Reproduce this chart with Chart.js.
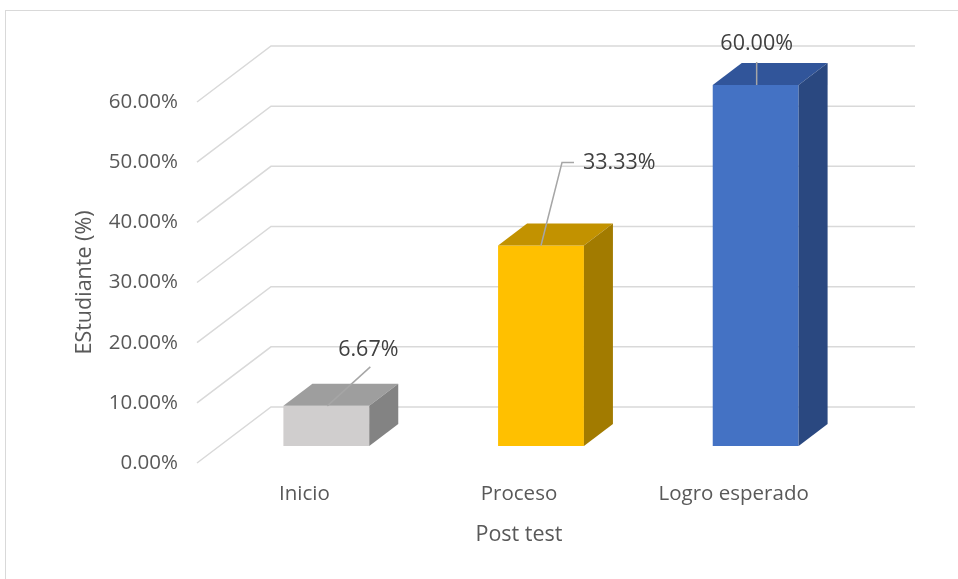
<!DOCTYPE html>
<html>
<head>
<meta charset="utf-8">
<script src="https://cdn.jsdelivr.net/npm/chart.js@4/dist/chart.umd.min.js"></script>
<style>
  html, body { margin: 0; padding: 0; background: #fff; }
  #wrap { position: relative; width: 958px; height: 579px; overflow: hidden; }
  #frame { position: absolute; left: 5px; top: 10px; width: 1000px; height: 600px; border: 1px solid #d9d9d9; }
  #chart { position: absolute; left: 0; top: 0; }
</style>
</head>
<body>
<div id="wrap">
  <div id="frame"></div>
  <canvas id="chart" width="958" height="579"></canvas>
</div>
<script>
const categories = ['Inicio', 'Proceso', 'Logro esperado'];
const values = [6.67, 33.33, 60.00];
const yTicks = [0, 10, 20, 30, 40, 50, 60];

const frontColors = ['#d0cece', '#ffc000', '#4472c4'];
const topColors = ['#9e9e9e', '#c29200', '#31559a'];
const sideColors = ['#838383', '#a27b00', '#2a4880'];

// floor depth (front edge -> back wall) and bar placement inside it
const DEPTH_X = 74, DEPTH_Y = -56;
const SHIFT_X = 22, SHIFT_Y = -17;
const BAR_DX = 29, BAR_DY = -22;

// hand-placed data labels, relative to top-centre of each bar face
const labelLayout = [
    { text: [42, -56], align: 'center', line: [[1, 0], [44, -39]] },
    { text: [42, -83], align: 'left', line: [[0, 0], [21, -83], [33, -83]] },
    { text: [1, -41], align: 'center', line: [[1, 0], [1, -23]] },
];

const FONT = '"Open Sans", sans-serif';

const threeD = {
    id: 'threeD',
    beforeDatasetsDraw(chart) {
        const { ctx, chartArea } = chart;
        const yScale = chart.scales.y;
        ctx.save();
        ctx.strokeStyle = '#d9d9d9';
        ctx.lineWidth = 1.5;
        yTicks.forEach((v) => {
            const y = yScale.getPixelForValue(v);
            ctx.beginPath();
            ctx.moveTo(chartArea.left, y);
            ctx.lineTo(chartArea.left + DEPTH_X, y + DEPTH_Y);
            ctx.lineTo(chartArea.right + DEPTH_X, y + DEPTH_Y);
            ctx.stroke();
        });
        ctx.restore();
        ctx.save();
        ctx.translate(SHIFT_X, SHIFT_Y);
    },
    afterDatasetsDraw(chart) {
        const { ctx } = chart;
        const bars = chart.getDatasetMeta(0).data;
        bars.forEach((bar, i) => {
            const { x, y, base, width } = bar.getProps(['x', 'y', 'base', 'width'], true);
            const l = x - width / 2, r = x + width / 2;
            ctx.fillStyle = topColors[i];
            ctx.beginPath();
            ctx.moveTo(l, y);
            ctx.lineTo(r, y);
            ctx.lineTo(r + BAR_DX, y + BAR_DY);
            ctx.lineTo(l + BAR_DX, y + BAR_DY);
            ctx.closePath();
            ctx.fill();
            ctx.fillStyle = sideColors[i];
            ctx.beginPath();
            ctx.moveTo(r, y);
            ctx.lineTo(r + BAR_DX, y + BAR_DY);
            ctx.lineTo(r + BAR_DX, base + BAR_DY);
            ctx.lineTo(r, base);
            ctx.closePath();
            ctx.fill();
        });
        ctx.restore();

        // data labels with leader lines
        ctx.save();
        bars.forEach((bar, i) => {
            const ax = bar.x + SHIFT_X, ay = bar.y + SHIFT_Y;
            const lay = labelLayout[i];
            ctx.strokeStyle = '#a6a6a6';
            ctx.lineWidth = 1.5;
            ctx.beginPath();
            lay.line.forEach(([dx, dy], k) => {
                if (k === 0) ctx.moveTo(ax + dx, ay + dy);
                else ctx.lineTo(ax + dx, ay + dy);
            });
            ctx.stroke();
            ctx.fillStyle = '#404040';
            ctx.font = '21.5px ' + FONT;
            ctx.textAlign = lay.align;
            ctx.textBaseline = 'middle';
            ctx.fillText(values[i].toFixed(2) + '%', ax + lay.text[0], ay + lay.text[1]);
        });
        ctx.restore();
    },
};

const canvas = document.getElementById('chart');
new Chart(canvas.getContext('2d'), {
    type: 'bar',
    data: {
        labels: categories,
        datasets: [{
            data: values,
            backgroundColor: frontColors,
            borderWidth: 0,
            categoryPercentage: 1,
            barPercentage: 0.4,
            clip: false,
        }],
    },
    options: {
        responsive: false,
        animation: false,
        events: [],
        layout: { padding: { left: 0, top: 102, right: 117, bottom: 0 } },
        plugins: { legend: { display: false }, tooltip: { enabled: false } },
        scales: {
            x: {
                grid: { display: false, drawTicks: false },
                border: { display: false },
                ticks: { color: '#595959', padding: 19, font: { size: 20.5, family: FONT } },
                title: {
                    display: true,
                    text: 'Post test',
                    color: '#595959',
                    font: { size: 21.5, family: FONT },
                    padding: { top: 0, bottom: 31 },
                },
                afterFit: (scale) => { scale.height = 116; },
            },
            y: {
                min: 0,
                max: 60,
                grid: { display: false, drawTicks: false },
                border: { display: false },
                ticks: {
                    stepSize: 10,
                    color: '#595959',
                    padding: 19,
                    font: { size: 20.5, family: FONT },
                    callback: (v) => v.toFixed(2) + '%',
                },
                title: {
                    display: true,
                    text: 'EStudiante (%)',
                    color: '#595959',
                    font: { size: 21.5, family: FONT },
                    padding: { top: 72, bottom: 0 },
                },
                afterFit: (scale) => { scale.width = 197; },
            },
        },
    },
    plugins: [threeD],
});
</script>
</body>
</html>
